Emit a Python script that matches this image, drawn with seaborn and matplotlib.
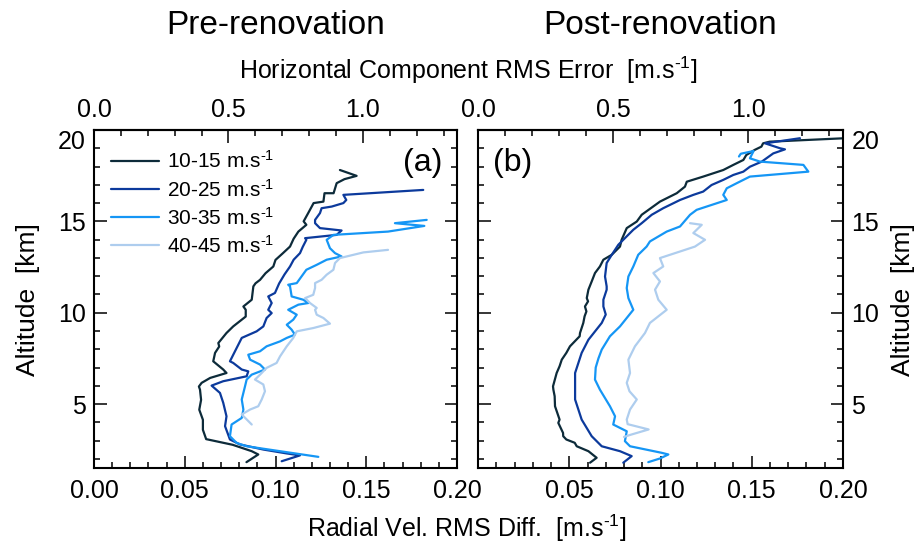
import numpy as np
import pandas as pd
import matplotlib
matplotlib.use('Agg')
import matplotlib.pyplot as plt
import seaborn as sns
from matplotlib.ticker import MultipleLocator, FixedLocator

# ---------------- data ----------------
speed_bins = ['10-15', '20-25', '30-35', '40-45']
colors = ['#0d2b3a', '#0c3a9c', '#1596f5', '#aecdee']

# Pre-renovation
pre_1015_alt = [1.82, 2.24, 2.42, 2.77, 3.08, 3.59, 4.14, 4.69, 5.23, 5.79, 5.96, 6.16, 6.43, 6.70, 6.89,
                7.34, 7.80, 8.15, 8.34, 8.89, 9.25, 9.79, 10.16, 10.34, 10.71, 11.44, 11.61, 11.80, 12.16,
                12.53, 12.89, 13.25, 13.62, 14.05, 14.44, 14.81, 15.00, 15.45, 16.00, 16.08, 16.54, 16.54,
                17.09, 17.31, 17.49, 17.81]
pre_1015_rms = [0.0840, 0.0905, 0.0869, 0.0764, 0.0618, 0.0600, 0.0600, 0.0580, 0.0590, 0.0584, 0.0578,
                0.0593, 0.0640, 0.0730, 0.0712, 0.0657, 0.0667, 0.0690, 0.0685, 0.0730, 0.0767, 0.0836,
                0.0836, 0.0823, 0.0869, 0.0878, 0.0890, 0.0915, 0.0945, 0.0988, 0.1000, 0.1040, 0.1080,
                0.1100, 0.1126, 0.1170, 0.1155, 0.1180, 0.1210, 0.1264, 0.1270, 0.1320, 0.1337, 0.1380,
                0.1447, 0.1355]

pre_2025_alt = [1.87, 2.19, 2.30, 2.51, 2.79, 3.06, 3.79, 4.33, 5.07, 5.61, 6.01, 6.25, 6.52, 6.79, 6.89,
                7.25, 7.34, 8.07, 8.62, 8.98, 9.25, 9.71, 9.98, 10.16, 10.53, 10.89, 11.08, 11.60, 12.10,
                12.53, 12.90, 13.26, 13.60, 13.99, 14.08, 14.26, 14.50, 14.63, 14.90, 15.08, 15.45, 15.72,
                15.81, 16.00, 16.17, 16.45, 16.72]
pre_2025_rms = [0.1034, 0.1135, 0.1060, 0.0933, 0.0804, 0.0749, 0.0722, 0.0730, 0.0712, 0.0694, 0.0648,
                0.0712, 0.0841, 0.0850, 0.0814, 0.0767, 0.0749, 0.0786, 0.0814, 0.0896, 0.0933, 0.0951,
                0.0979, 0.0960, 0.0979, 0.0960, 0.0997, 0.1020, 0.1050, 0.1080, 0.1100, 0.1135, 0.1150,
                0.1170, 0.1163, 0.1337, 0.1364, 0.1245, 0.1218, 0.1218, 0.1245, 0.1254, 0.1310, 0.1374,
                0.1390, 0.1374, 0.1814]

pre_3035_alt = [2.11, 2.42, 2.69, 2.87, 3.24, 3.88, 4.24, 4.70, 5.25, 5.97, 6.34, 6.61, 6.89, 7.16, 7.43,
                7.70, 7.89, 8.16, 8.43, 8.62, 8.80, 9.07, 9.34, 9.62, 9.89, 10.16, 10.44, 10.53, 10.71,
                10.89, 11.44, 11.53, 11.62, 12.35, 12.62, 12.90, 13.08, 13.26, 13.53, 13.99, 14.26, 14.44,
                14.75, 14.90, 15.08]
pre_3035_rms = [0.1236, 0.1025, 0.0841, 0.0786, 0.0749, 0.0758, 0.0814, 0.0823, 0.0814, 0.0832, 0.0841,
                0.0869, 0.0942, 0.0915, 0.0860, 0.0850, 0.0915, 0.0951, 0.1025, 0.1062, 0.1107, 0.1089,
                0.1062, 0.1098, 0.1117, 0.1070, 0.1126, 0.1181, 0.1153, 0.1089, 0.1080, 0.1070, 0.1117,
                0.1170, 0.1227, 0.1282, 0.1364, 0.1328, 0.1300, 0.1282, 0.1319, 0.1620, 0.1820, 0.1658,
                0.1833]

pre_4045_alt = [3.88, 4.43, 4.70, 4.88, 5.25, 5.70, 6.07, 6.34, 6.61, 6.98, 7.25, 7.61, 8.16, 8.62, 8.98,
                9.16, 9.40, 9.71, 9.89, 10.16, 10.26, 10.53, 10.80, 10.98, 11.35, 11.62, 11.80, 12.08,
                12.35, 12.72, 12.99, 13.30, 13.44]
pre_4045_rms = [0.0869, 0.0814, 0.0860, 0.0905, 0.0924, 0.0942, 0.0933, 0.0887, 0.0915, 0.0951, 0.1006,
                0.1025, 0.1062, 0.1098, 0.1117, 0.1208, 0.1300, 0.1264, 0.1227, 0.1218, 0.1227, 0.1190,
                0.1163, 0.1208, 0.1218, 0.1218, 0.1254, 0.1282, 0.1319, 0.1328, 0.1355, 0.1484, 0.1620]

# Post-renovation
post_1015_alt = [1.79, 2.06, 2.42, 2.69, 2.88, 3.06, 3.24, 3.42, 3.97, 4.15, 4.88, 5.43, 5.79, 5.97, 6.70,
                 7.07, 7.43, 7.80, 8.16, 8.71, 8.89, 9.44, 9.80, 10.07, 10.34, 10.62, 10.80, 11.26, 11.71,
                 12.17, 12.53, 12.90, 13.17, 13.62, 13.99, 14.63, 14.99, 15.36, 16.08, 16.54, 16.90,
                 17.17, 17.45, 17.81, 18.09, 18.36, 18.63, 18.91, 19.09, 19.27, 19.36, 19.55]
post_1015_rms = [0.0614, 0.0650, 0.0605, 0.0541, 0.0530, 0.0484, 0.0467, 0.0466, 0.0440, 0.0447, 0.0422,
                 0.0420, 0.0413, 0.0411, 0.0431, 0.0447, 0.0459, 0.0484, 0.0504, 0.0557, 0.0559, 0.0577,
                 0.0584, 0.0594, 0.0586, 0.0603, 0.0596, 0.0605, 0.0623, 0.0641, 0.0668, 0.0687, 0.0733,
                 0.0778, 0.0787, 0.0815, 0.0870, 0.0897, 0.0997, 0.1089, 0.1134, 0.1144, 0.1234, 0.1344,
                 0.1399, 0.1454, 0.1470, 0.1516, 0.1553, 0.1562, 0.1598, 0.2010]

post_2025_alt = [1.79, 2.15, 2.42, 2.69, 3.24, 4.15, 5.25, 6.70, 7.80, 8.52, 9.44, 9.90, 10.34, 10.71,
                 11.26, 11.44, 11.98, 12.72, 13.17, 13.72, 13.99, 14.54, 14.90, 15.36, 15.72, 16.17, 16.45,
                 16.63, 16.99, 17.27, 17.54, 17.72, 17.99, 18.27, 18.72, 18.94, 19.00, 19.27, 19.55]
post_2025_rms = [0.0796, 0.0842, 0.0778, 0.0678, 0.0623, 0.0568, 0.0532, 0.0532, 0.0568, 0.0605, 0.0678,
                 0.0700, 0.0687, 0.0687, 0.0705, 0.0705, 0.0696, 0.0705, 0.0733, 0.0769, 0.0796, 0.0851,
                 0.0897, 0.0952, 0.1015, 0.1107, 0.1180, 0.1234, 0.1280, 0.1344, 0.1399, 0.1454, 0.1490,
                 0.1555, 0.1618, 0.1682, 0.1655, 0.1573, 0.1764]

post_3035_alt = [1.82, 2.02, 2.24, 2.33, 2.69, 2.97, 3.51, 3.88, 4.33, 4.88, 5.79, 6.34, 7.00, 7.50, 7.98,
                 8.71, 9.25, 10.16, 10.80, 11.35, 11.98, 12.53, 13.17, 13.62, 13.90, 14.44, 14.72, 15.36,
                 15.63, 16.17, 16.45, 16.81, 17.09, 17.45, 17.72, 18.09, 18.27, 18.45, 18.85, 18.70, 18.55]
post_3035_rms = [0.0933, 0.0997, 0.1043, 0.1007, 0.0833, 0.0805, 0.0815, 0.0741, 0.0751, 0.0723, 0.0668,
                 0.0641, 0.0645, 0.0660, 0.0678, 0.0723, 0.0778, 0.0851, 0.0824, 0.0815, 0.0824, 0.0851,
                 0.0878, 0.0924, 0.0942, 0.1034, 0.1107, 0.1162, 0.1198, 0.1363, 0.1344, 0.1363, 0.1418,
                 0.1490, 0.1810, 0.1783, 0.1545, 0.1490, 0.1510, 0.1440, 0.1430]

post_4045_alt = [3.20, 3.30, 3.61, 3.90, 4.15, 4.70, 5.25, 5.70, 6.16, 6.70, 7.43, 8.16, 8.89, 9.44, 10.16,
                 10.71, 11.26, 11.71, 12.17, 12.53, 12.99, 13.35, 13.62, 13.99, 14.36, 14.81, 14.90]
post_4045_rms = [0.0800, 0.0830, 0.0935, 0.0820, 0.0815, 0.0833, 0.0870, 0.0830, 0.0815, 0.0833, 0.0824,
                 0.0860, 0.0915, 0.0942, 0.1034, 0.0988, 0.0970, 0.0997, 0.0961, 0.1015, 0.0997, 0.1107,
                 0.1189, 0.1244, 0.1180, 0.1226, 0.1162]

x_ticks = [0.00, 0.05, 0.10, 0.15, 0.20]
x_ticklabels_pre = ['0.00', '0.05', '0.10', '0.15', '0.20']
x_ticklabels_post = ['', '0.05', '0.10', '0.15', '0.20']
y_ticks = [5, 10, 15, 20]
top_ticks = [0.0, 0.5, 1.0]
top_ticklabels = ['0.0', '0.5', '1.0']
horiz_factor = 6.75

# ---------------- assemble tables ----------------
def make_df(series):
    frames = []
    for b, (alt, rms) in zip(speed_bins, series):
        frames.append(pd.DataFrame({'alt': alt, 'rms': rms, 'bin': b}))
    return pd.concat(frames, ignore_index=True)

df_pre = make_df([(pre_1015_alt, pre_1015_rms), (pre_2025_alt, pre_2025_rms),
                  (pre_3035_alt, pre_3035_rms), (pre_4045_alt, pre_4045_rms)])
df_post = make_df([(post_1015_alt, post_1015_rms), (post_2025_alt, post_2025_rms),
                   (post_3035_alt, post_3035_rms), (post_4045_alt, post_4045_rms)])

# ---------------- style ----------------
sns.set_style('white', rc={'axes.edgecolor': 'black', 'text.color': 'black',
                           'xtick.color': 'black', 'ytick.color': 'black',
                           'axes.labelcolor': 'black'})
plt.rcParams['font.family'] = ['Liberation Sans', 'DejaVu Sans']
plt.rcParams['mathtext.fontset'] = 'custom'
plt.rcParams['mathtext.rm'] = 'Liberation Sans'
plt.rcParams['mathtext.it'] = 'Liberation Sans:italic'
plt.rcParams['mathtext.bf'] = 'Liberation Sans:bold'

palette = dict(zip(speed_bins, colors))
UNIT = 'm.s$^{\u2010 1}$'

W, H = 919, 549
fig = plt.figure(figsize=(W / 100, H / 100), dpi=100)
ax1 = fig.add_axes([94 / W, 1 - 468 / H, 363 / W, 338 / H])
ax2 = fig.add_axes([478 / W, 1 - 468 / H, 365 / W, 338 / H])

TICK_FS = 18
for ax, df, xlabels in [(ax1, df_pre, x_ticklabels_pre), (ax2, df_post, x_ticklabels_post)]:
    sns.lineplot(data=df, x='rms', y='alt', hue='bin', palette=palette, sort=False,
                 estimator=None, lw=1.6, ax=ax, legend=(ax is ax1))
    ax.set_xlim(0, 0.2)
    ax.set_ylim(1.5, 20)
    ax.set_xlabel('')
    ax.set_ylabel('')
    ax.set_xticks(x_ticks, xlabels)
    ax.xaxis.set_minor_locator(MultipleLocator(0.01))
    ax.yaxis.set_major_locator(FixedLocator(y_ticks))
    ax.yaxis.set_minor_locator(MultipleLocator(1))
    for s in ax.spines.values():
        s.set_linewidth(1.5)
        s.set_visible(True)
    ax.tick_params(which='both', direction='in', top=False, bottom=True, left=True, right=True,
                   color='black', width=1.1)
    ax.tick_params(which='major', length=9, labelsize=TICK_FS, labelcolor='black')
    ax.tick_params(which='minor', length=4.5)
    ax.tick_params(axis='x', pad=8)
    sec = ax.secondary_xaxis('top', functions=(lambda x: x * horiz_factor, lambda x: x / horiz_factor))
    sec.set_xticks(top_ticks, top_ticklabels)
    sec.xaxis.set_minor_locator(MultipleLocator(0.1))
    sec.tick_params(which='both', direction='in', color='black', width=1.1)
    sec.tick_params(which='major', length=9, labelsize=TICK_FS, pad=6, labelcolor='black')
    sec.tick_params(which='minor', length=4.5)
    sec.spines['top'].set_linewidth(1.5)

ax1.tick_params(axis='y', labelleft=True, labelright=False, pad=6)
ax2.tick_params(axis='y', labelleft=False, labelright=True, pad=6)

# top "20" label hangs below its tick, as in the reference
for ax in (ax1, ax2):
    t = ax.yaxis.get_major_ticks()[-1]
    t.label1.set_va('top')
    t.label2.set_va('top')

# Legend
handles, labels = ax1.get_legend_handles_labels()
ax1.legend(handles, [f'{b} {UNIT}' for b in labels], loc='upper left',
           bbox_to_anchor=(0.048, 0.94), frameon=False, fontsize=15, handlelength=2.3,
           handletextpad=0.35, labelspacing=0.3, borderaxespad=0, borderpad=0)

ax1.text(0.961, 0.902, '(a)', transform=ax1.transAxes, ha='right', va='center', fontsize=23)
ax2.text(0.041, 0.902, '(b)', transform=ax2.transAxes, ha='left', va='center', fontsize=23)

fig.text(275.5 / W, 1 - 25 / H, 'Pre-renovation', ha='center', va='center', fontsize=24)
fig.text(660.5 / W, 1 - 25 / H, 'Post-renovation', ha='center', va='center', fontsize=24)
fig.text(468 / W, 1 - 70 / H, f'Horizontal Component RMS Error  [{UNIT}]', ha='center',
         va='center', fontsize=18)
fig.text(467 / W, 1 - 528 / H, f'Radial Vel. RMS Diff.  [{UNIT}]', ha='center', va='center',
         fontsize=18)
fig.text(28 / W, 1 - 300 / H, 'Altitude  [km]', rotation=90, ha='center', va='center', fontsize=19)
fig.text(903 / W, 1 - 300 / H, 'Altitude  [km]', rotation=90, ha='center', va='center', fontsize=19)

fig.savefig('out.png', dpi=100)
